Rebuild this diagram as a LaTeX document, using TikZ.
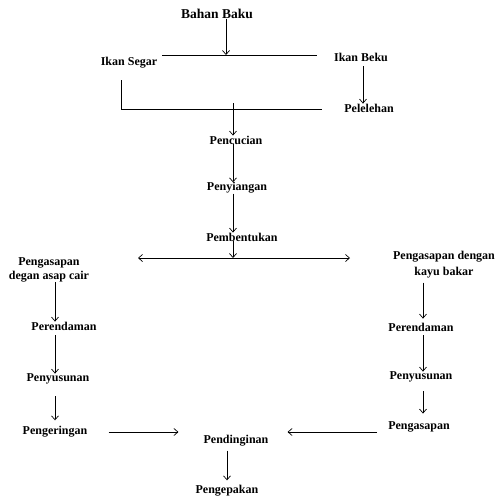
\documentclass[tikz,border=0pt]{standalone}
\usepackage{fontspec}
\setmainfont{Liberation Serif}
\usetikzlibrary{arrows.meta}
\begin{document}
\begin{tikzpicture}[x=1pt,y=1pt,
  lbl/.style={font=\fontsize{12}{14}\selectfont\bfseries,inner sep=0pt,align=center},
  arr/.style={line width=0.7pt,-{Straight Barb[length=4pt,width=7pt]}},
  ln/.style={line width=0.7pt}]
\useasboundingbox (0,0) rectangle (496,-498);
% nodes
\node[lbl,font=\fontsize{13.5}{15}\selectfont\bfseries] (bahan) at (217,-14) {Bahan Baku};
\node[lbl] (segar) at (129,-63) {Ikan Segar};
\node[lbl] (beku) at (361,-57) {Ikan Beku};
\node[lbl] (leleh) at (369,-108) {Pelelehan};
\node[lbl] (cuci) at (236,-140) {Pencucian};
\node[lbl] (siang) at (237,-188) {Penyiangan};
\node[lbl] (bentuk) at (242,-237) {Pembentukan};
\node[lbl] (cair) at (49,-270) {Pengasapan\\degan asap cair};
\node[lbl] (kayu) at (444,-265) {Pengasapan dengan\\[2pt]kayu bakar};
\node[lbl] (rendamA) at (64,-326) {Perendaman};
\node[lbl] (susunA) at (58,-379) {Penyusunan};
\node[lbl] (kering) at (55,-432) {Pengeringan};
\node[lbl] (rendamB) at (421,-327) {Perendaman};
\node[lbl] (susunB) at (421,-377) {Penyusunan};
\node[lbl] (asap) at (419,-427) {Pengasapan};
\node[lbl] (dingin) at (236,-441) {Pendinginan};
\node[lbl] (kemas) at (227,-491) {Pengepakan};
% columns and junctions
\coordinate (colM) at (233,0);
\coordinate (colA) at (55,0);
\coordinate (colB) at (423,0);
\coordinate (colL) at (363,0);
\coordinate (masuk) at (226,-55);
\coordinate (pisahA) at (162,-55);
\coordinate (pisahB) at (317,-55);
\coordinate (turun) at (121,-80);
\coordinate (kiri) at (121,-109);
\coordinate (kanan) at (322,-109);
\coordinate (gabung) at (233,-103);
\coordinate (cabang) at (233,-258);
\coordinate (cabKiri) at (138,-258);
\coordinate (cabKanan) at (350,-258);
% top part
\draw[arr] (bahan.south -| masuk) -- (masuk);
\draw[ln] (pisahA) -- (pisahB);
\draw[arr,shorten <=5pt] (beku.south -| colL) -- (leleh.north -| colL);
\draw[ln] (turun) -- (kiri) -- (kanan);
\draw[arr] (gabung) -- (cuci.north -| colM);
\draw[arr] (cuci.south -| colM) -- (siang.north -| colM);
\draw[arr] (siang.south -| colM) -- (bentuk.north -| colM);
\draw[arr] (bentuk.south -| colM) -- (cabang);
\draw[arr] (cabang) -- (cabKiri);
\draw[arr] (cabang) -- (cabKanan);
% left column
\draw[arr] (cair.south -| colA) -- (rendamA.north -| colA);
\draw[arr,shorten <=5pt] (rendamA.south -| colA) -- (susunA.north -| colA);
\draw[arr,shorten <=12pt,shorten >=6pt] (susunA.south -| colA) -- (kering.north -| colA);
% right column
\draw[arr,shorten <=4pt,shorten >=4pt] (kayu.south -| colB) -- (rendamB.north -| colB);
\draw[arr,shorten <=4pt] (rendamB.south -| colB) -- (susunB.north -| colB);
\draw[arr,shorten <=9pt,shorten >=8pt] (susunB.south -| colB) -- (asap.north -| colB);
% bottom
\draw[arr,shorten <=21pt,shorten >=25pt] (kering.east) -- (dingin.west |- kering);
\draw[arr,shorten <=11pt,shorten >=19pt] (asap.west |- kering) -- (dingin.east |- kering);
\draw[arr,shorten <=4pt,shorten >=5pt] (dingin.south -| kemas) -- (kemas.north);
\end{tikzpicture}
\end{document}
